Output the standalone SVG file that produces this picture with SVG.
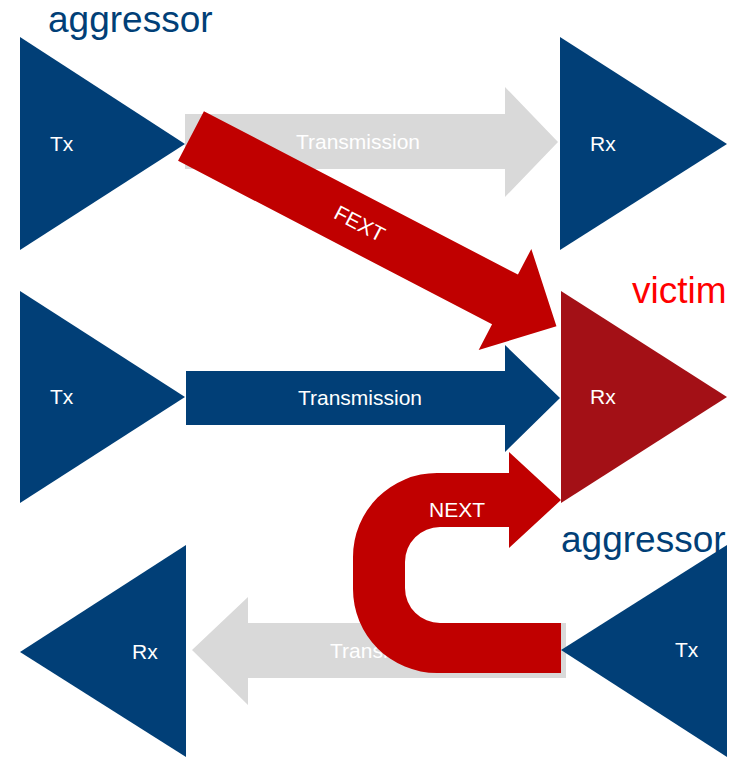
<svg xmlns="http://www.w3.org/2000/svg" width="738" height="757" viewBox="0 0 738 757">
<style>
.navy{fill:#013F77}
.gray{fill:#D9D9D9}
.red{fill:#C00000}
.vic{fill:#A31016}
.lbl{font-family:"Liberation Sans",Arial,sans-serif;font-size:21px;fill:#FFFFFF}
.big{font-family:"Liberation Sans",Arial,sans-serif;font-size:37px}
</style>
<rect width="738" height="757" fill="#FFFFFF"/>
<g id="connectors">
  <g id="trans-top">
    <polygon class="gray" points="185,114 505,114 505,87 558,142 505,197 505,169 185,169"/>
    <text class="lbl" x="358" y="149" text-anchor="middle">Transmission</text>
  </g>
  <g id="trans-mid">
    <polygon class="navy" points="186,371 505,371 505,345 560,398 505,452 505,425 186,425"/>
    <text class="lbl" x="360" y="405" text-anchor="middle">Transmission</text>
  </g>
  <g id="trans-bot">
    <polygon class="gray" points="566,623 248,623 248,597 192,650 248,705 248,678 566,678"/>
    <text class="lbl" x="330" y="658">Transmission</text>
  </g>
</g>
<g id="tx-top">
  <polygon class="navy" points="20,37 185,144 20,250"/>
  <text class="lbl" x="50" y="151">Tx</text>
</g>
<g id="rx-top">
  <polygon class="navy" points="560,37 727,144 560,250"/>
  <text class="lbl" x="590" y="151">Rx</text>
</g>
<g id="tx-mid">
  <polygon class="navy" points="20,291 185,397 20,503"/>
  <text class="lbl" x="50" y="404">Tx</text>
</g>
<g id="rx-victim">
  <polygon class="vic" points="561,291 727,397 561,503"/>
  <text class="lbl" x="590" y="404">Rx</text>
</g>
<g id="rx-bot">
  <polygon class="navy" points="186,545 20,652 186,757"/>
  <text class="lbl" x="132" y="659">Rx</text>
</g>
<g id="tx-bot">
  <polygon class="navy" points="727,545 561,650 727,757"/>
  <text class="lbl" x="675" y="657">Tx</text>
</g>
<g id="crosstalk">
  <g id="fext" transform="translate(191,136) rotate(27.5)">
    <polygon class="red" points="0,-28 354,-28 354,-57 412,0 354,57 354,28 0,28"/>
    <text class="lbl" x="190" y="7" text-anchor="middle">FEXT</text>
  </g>
  <g id="next">
    <path class="red" d="M509,473 L437,473 A84,84 0 0 0 353,557 L353,589 A84,84 0 0 0 437,673 L561,673 L561,623 L440,623 A35,35 0 0 1 405,588 L405,562 A35,35 0 0 1 440,527 L509,527 L509,548 L561,500 L509,452 Z"/>
    <text class="lbl" x="457" y="517" text-anchor="middle">NEXT</text>
  </g>
</g>
<g id="labels">
  <text class="big" x="48" y="32" fill="#013F77">aggressor</text>
  <text class="big" x="632" y="303" fill="#FF0000">victim</text>
  <text class="big" x="561" y="552" fill="#013F77">aggressor</text>
</g>
</svg>
